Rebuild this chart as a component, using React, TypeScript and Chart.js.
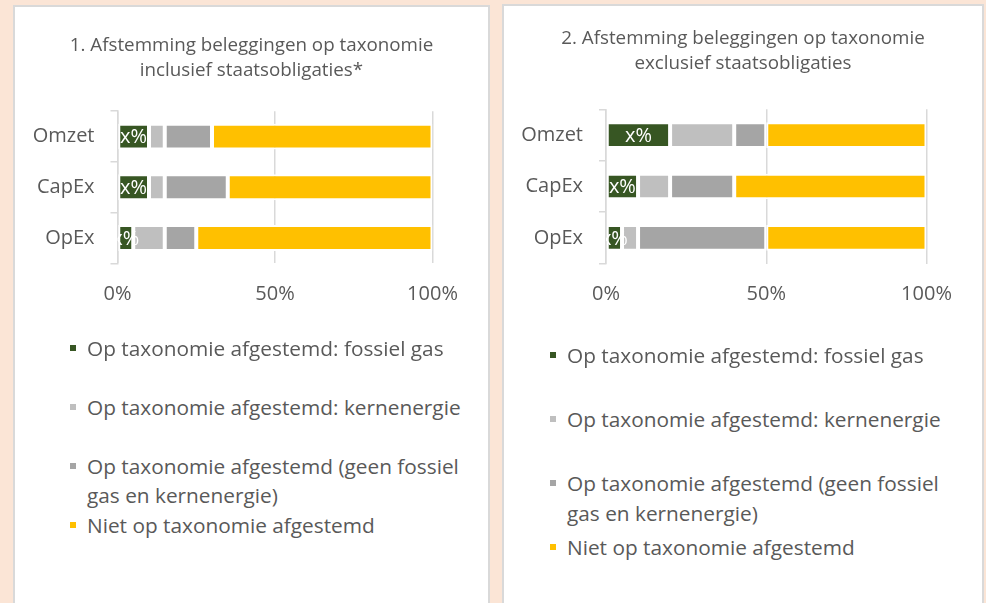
import React, { useEffect, useRef } from 'react';
import { Chart, registerables } from 'chart.js';

Chart.register(...registerables);

// ---------- data ----------
const categories = ['Omzet', 'CapEx', 'OpEx'];
const seriesNames = [
  'Op taxonomie afgestemd: fossiel gas',
  'Op taxonomie afgestemd: kernenergie',
  'Op taxonomie afgestemd (geen fossiel gas en kernenergie)',
  'Niet op taxonomie afgestemd',
];
const seriesColors = ['#375623', '#BFBFBF', '#A5A5A5', '#FFC000'];
const xTickValues = [0, 50, 100];
const dataLabelText = 'x%';

const title1 = ['1. Afstemming beleggingen op taxonomie', 'inclusief staatsobligaties*'];
const fossilGas1 = [10, 10, 5];
const nuclear1 = [5, 5, 10];
const otherAligned1 = [15, 20, 10];
const notAligned1 = [70, 65, 75];

const title2 = ['2. Afstemming beleggingen op taxonomie', 'exclusief staatsobligaties'];
const fossilGas2 = [20, 10, 5];
const nuclear2 = [20, 10, 5];
const otherAligned2 = [10, 20, 40];
const notAligned2 = [50, 60, 50];

// ---------- style ----------
const TEXT = '#595959';
const GRID = '#d9d9d9';
const FONT = "'Open Sans', sans-serif";
const TITLE_LINE = 25;

const labelPlugin = {
  id: 'segLabels',
  afterDatasetsDraw(chart: any) {
    const meta = chart.getDatasetMeta(0);
    const ctx = chart.ctx;
    const a = chart.chartArea;
    ctx.save();
    ctx.beginPath();
    ctx.rect(a.left, a.top, a.right - a.left, a.bottom - a.top);
    ctx.clip();
    ctx.fillStyle = '#ffffff';
    ctx.font = `20px ${FONT}`;
    ctx.textAlign = 'center';
    ctx.textBaseline = 'middle';
    meta.data.forEach((el: any) => {
      const p = el.getProps(['x', 'y', 'base'], true);
      ctx.fillText(dataLabelText, (p.x + p.base) / 2, p.y + 1);
    });
    ctx.restore();
  },
};

// centred two-line title (centred on the whole canvas, not on the padded box)
const centerTitlePlugin = {
  id: 'centerTitle',
  afterDraw(chart: any, _args: any, opts: any) {
    const ctx = chart.ctx;
    ctx.save();
    ctx.fillStyle = TEXT;
    ctx.font = `18.8px ${FONT}`;
    ctx.textAlign = 'center';
    ctx.textBaseline = 'middle';
    (opts.lines || []).forEach((line: string, i: number) => {
      ctx.fillText(line, chart.width / 2, opts.top + TITLE_LINE / 2 + i * TITLE_LINE);
    });
    ctx.restore();
  },
};

type ChartProps = {
  title: string[];
  series: number[][];
  width: number;
  height: number;
  chartLeft: number;
  padRight: number;
  padBottom: number;
  titleTop: number;
  chartTop: number;
  barPct: number;
};

function StackedChart(props: ChartProps) {
  const ref = useRef<HTMLCanvasElement | null>(null);
  useEffect(() => {
    if (!ref.current) return;
    const chart = new Chart(ref.current, {
      type: 'bar',
      data: {
        labels: categories,
        datasets: props.series.map((d, i) => ({
          label: seriesNames[i],
          data: d,
          backgroundColor: seriesColors[i],
          borderColor: '#ffffff',
          borderWidth: 2,
          borderSkipped: false,
          barPercentage: props.barPct,
          categoryPercentage: 1,
        })),
      },
      options: {
        indexAxis: 'y',
        animation: false,
        responsive: false,
        maintainAspectRatio: false,
        layout: {
          padding: { left: 0, right: props.padRight, top: props.chartTop, bottom: props.padBottom },
        },
        plugins: {
          legend: { display: false },
          tooltip: { enabled: false },
          title: { display: false },
          centerTitle: { lines: props.title, top: props.titleTop },
        },
        scales: {
          x: {
            stacked: true,
            min: 0,
            max: 100,
            afterBuildTicks: (s: any) => {
              s.ticks = xTickValues.map((v) => ({ value: v }));
            },
            ticks: {
              callback: (v: any) => v + '%',
              color: TEXT,
              font: { family: FONT, size: 20 },
              padding: 19,
              maxRotation: 0,
            },
            grid: { color: GRID, lineWidth: 1.5, drawTicks: false },
            border: { display: false },
          },
          y: {
            stacked: true,
            afterFit: (s: any) => {
              s.width = props.chartLeft;
            },
            ticks: { color: TEXT, font: { family: FONT, size: 20 }, padding: 16 },
            grid: {
              drawOnChartArea: false,
              drawTicks: true,
              tickLength: 7,
              color: GRID,
              lineWidth: 1.5,
              offset: true,
            },
            border: { display: true, color: GRID, width: 1.5 },
          },
        },
      } as any,
      plugins: [labelPlugin, centerTitlePlugin],
    });
    return () => chart.destroy();
  }, []);
  return (
    <canvas
      ref={ref}
      width={props.width}
      height={props.height}
      style={{ position: 'absolute', left: 0, top: 0, display: 'block' }}
    />
  );
}

type LegendProps = { markerLeft: number; textLeft: number; top: number; slot: number; lineHeight: number };

function Legend(p: LegendProps) {
  return (
    <>
      {seriesNames.map((name, i) => (
        <div key={i}>
          <div
            style={{
              position: 'absolute',
              left: p.markerLeft,
              top: p.top + i * p.slot + p.lineHeight / 2 - 3,
              width: 6,
              height: 6,
              background: seriesColors[i],
            }}
          />
          <div
            style={{
              position: 'absolute',
              left: p.textLeft,
              top: p.top + i * p.slot,
              width: 392,
              fontFamily: FONT,
              fontSize: 20.8,
              lineHeight: p.lineHeight + 'px',
              color: TEXT,
              whiteSpace: 'normal',
            }}
          >
            {name}
          </div>
        </div>
      ))}
    </>
  );
}

export default function App() {
  return (
    <div style={{ position: 'fixed', inset: 0, background: '#FBE5D6', overflow: 'hidden' }}>
      <div
        style={{
          position: 'absolute',
          left: 13,
          top: 5,
          width: 477,
          height: 640,
          boxSizing: 'border-box',
          background: '#ffffff',
          border: `2px solid ${GRID}`,
        }}
      >
        <StackedChart
          title={title1}
          series={[fossilGas1, nuclear1, otherAligned1, notAligned1]}
          width={473}
          height={330}
          chartLeft={102.5}
          padRight={55.5}
          padBottom={11.6}
          titleTop={26}
          chartTop={104.2}
          barPct={0.51}
        />
        <Legend markerLeft={55} textLeft={72} top={326.5} slot={59} lineHeight={29} />
      </div>
      <div
        style={{
          position: 'absolute',
          left: 502,
          top: 4,
          width: 482,
          height: 640,
          boxSizing: 'border-box',
          background: '#ffffff',
          border: `2px solid ${GRID}`,
        }}
      >
        <StackedChart
          title={title2}
          series={[fossilGas2, nuclear2, otherAligned2, notAligned2]}
          width={478}
          height={330}
          chartLeft={102}
          padRight={55.5}
          padBottom={10.3}
          titleTop={20}
          chartTop={103.3}
          barPct={0.5}
        />
        <Legend markerLeft={46} textLeft={63} top={334} slot={64} lineHeight={30} />
      </div>
    </div>
  );
}
